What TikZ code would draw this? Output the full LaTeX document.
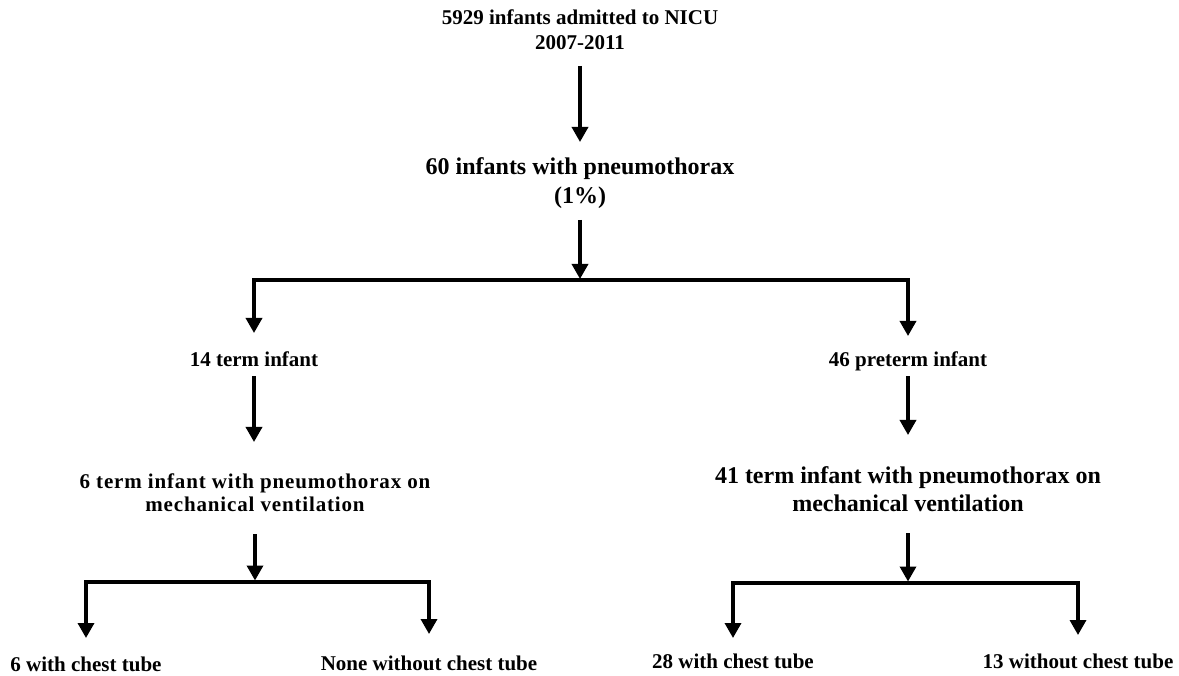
\documentclass[tikz,border=0pt]{standalone}
\usepackage{fontspec}
\setmainfont{Liberation Serif}
\newfontfamily\spacedfont[LetterSpace=4]{Liberation Serif}
\usetikzlibrary{arrows.meta}
\newcommand\fsz[2]{\fontsize{#1}{#2}\selectfont}
\newcommand\twolines[2]{\begin{tabular}[t]{@{}c@{}}#1\\#2\end{tabular}}
\begin{document}
\begin{tikzpicture}[x=1pt,y=-1pt,
  lbl/.style={anchor=base, inner sep=0pt, outer sep=0pt},
  oneline/.style={lbl, font=\bfseries\fsz{21}{25}, text height=17.5pt, text depth=2pt},
  arr/.style={line width=3.4pt, -{Triangle[width=16pt,length=15pt]}}]
\path[use as bounding box] (0,0) rectangle (1179,676);

% nodes
\node[lbl, font=\bfseries\fsz{21}{25}] (n1) at (580,25)
  {\twolines{5929 infants admitted to NICU}{2007-2011}};
\node[lbl, font=\bfseries\fsz{24}{29}] (n2) at (580,175)
  {\twolines{60 infants with pneumothorax}{(1\%)}};
\node[oneline] (n3) at (254,367) {14 term infant};
\node[oneline] (n4) at (908,367) {46 preterm infant};
\node[lbl, font=\spacedfont\bfseries\fsz{21}{23}] (n5) at (255,489)
  {\twolines{6 term infant with pneumothorax on}{mechanical ventilation}};
\node[lbl, font=\bfseries\fsz{24}{28}] (n6) at (908,483)
  {\twolines{41 term infant with pneumothorax on}{mechanical ventilation}};
\node[oneline] (n7) at (86,671) {6 with chest tube};
\node[oneline] (n8) at (429,670) {None without chest tube};
\node[oneline] (n9) at (733,668) {28 with chest tube};
\node[oneline] (n10) at (1078,668) {13 without chest tube};

% junctions
\coordinate (j1) at (580,280);
\coordinate (j2) at (255,582);
\coordinate (j3) at (908,583);

% connectors
\draw[arr, shorten <=8.5pt, shorten >=12.7pt] (n1.south) -- (n2.north);
\draw[arr, shorten <=7.3pt, shorten >=1pt] (n2.south) -- (j1);
\draw[arr, shorten >=16.5pt] (j1) -| (n3.north);
\draw[arr, shorten >=13.5pt] (j1) -| (n4.north);
\draw[arr, shorten <=7.5pt, shorten >=30.9pt] (n3.south) -- (n3.south |- n5.north);
\draw[arr, shorten <=7.5pt, shorten >=28.4pt] (n4.south) -- (n6.north);
\draw[arr, shorten <=15.1pt, shorten >=1.5pt] (n5.south) -- (j2);
\draw[arr, shorten <=13.6pt, shorten >=1.5pt] (n6.south) -- (j3);
\draw[arr, shorten >=15.5pt] (j2) -| (n7.north);
\draw[arr, shorten >=18.5pt] (j2) -| (n8.north);
\draw[arr, shorten >=12.5pt] (j3) -| (n9.north);
\draw[arr, shorten >=15.5pt] (j3) -| (n10.north);
\end{tikzpicture}
\end{document}
